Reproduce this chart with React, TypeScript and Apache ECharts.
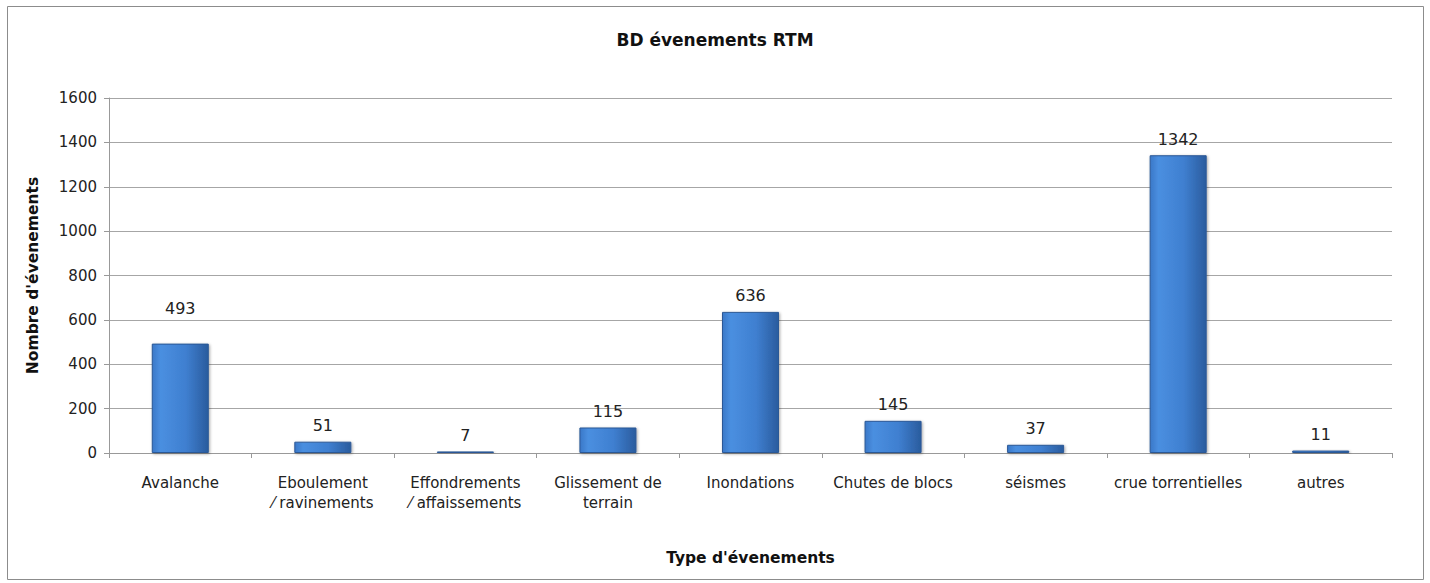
import React, { useEffect, useRef } from "react";
import * as echarts from "echarts";

const categories = [
  "Avalanche",
  "Eboulement\n⁄ ravinements",
  "Effondrements\n⁄ affaissements",
  "Glissement de\nterrain",
  "Inondations",
  "Chutes de blocs",
  "séismes",
  "crue torrentielles",
  "autres",
];
const values = [493, 51, 7, 115, 636, 145, 37, 1342, 11];
const title = "BD évenements RTM";
const yName = "Nombre d'évenements";
const xName = "Type d'évenements";

export default function App() {
  const ref = useRef<HTMLDivElement>(null);
  useEffect(() => {
    if (!ref.current) return;
    const chart = echarts.init(ref.current, null, { renderer: "svg" });
    const font = "DejaVu Sans";
    const barColor = {
      type: "linear",
      x: 0,
      y: 0,
      x2: 1,
      y2: 0,
      colorStops: [
        { offset: 0, color: "#3a78c8" },
        { offset: 0.15, color: "#4a8fe0" },
        { offset: 0.6, color: "#3f7fd0" },
        { offset: 1, color: "#2a5c9e" },
      ],
    };
    chart.setOption({
      animation: false,
      backgroundColor: "#ffffff",
      title: {
        text: title,
        left: "center",
        top: 26,
        textStyle: { fontFamily: font, fontSize: 17, fontWeight: "bold", color: "#111" },
      },
      graphic: [
        {
          type: "rect",
          shape: { x: 7.5, y: 6.5, width: 1416, height: 573 },
          style: { fill: "none", stroke: "#8c8c8c", lineWidth: 1 },
          silent: true,
        },
      ],
      grid: { left: 109, right: 38, top: 98, bottom: 130 },
      xAxis: {
        type: "category",
        data: categories,
        name: xName,
        nameLocation: "middle",
        nameGap: 97,
        nameTextStyle: { fontFamily: font, fontSize: 15.5, fontWeight: "bold", color: "#111" },
        axisLine: { show: true, lineStyle: { color: "#999", width: 1 } },
        axisTick: { show: true, length: 5, lineStyle: { color: "#999" } },
        axisLabel: {
          fontFamily: font,
          fontSize: 15,
          color: "#222",
          margin: 20,
          lineHeight: 20,
          interval: 0,
        },
      },
      yAxis: {
        type: "value",
        min: 0,
        max: 1600,
        interval: 200,
        name: yName,
        nameLocation: "middle",
        nameGap: 68,
        nameTextStyle: { fontFamily: font, fontSize: 15.5, fontWeight: "bold", color: "#111" },
        axisLine: { show: true, lineStyle: { color: "#999", width: 1 } },
        axisTick: { show: true, length: 5, lineStyle: { color: "#999" } },
        axisLabel: {
          fontFamily: font,
          fontSize: 15,
          color: "#222",
          margin: 12,
          formatter: (v: number) => String(v),
        },
        splitLine: { show: true, lineStyle: { color: "#a6a6a6", width: 1 } },
      },
      series: [
        {
          type: "bar",
          data: values.map((v, i) =>
            i === 0 ? { value: v, label: { distance: 27 } } : v
          ),
          barWidth: "40%",
          itemStyle: {
            color: barColor,
            borderColor: "#2b5896",
            borderWidth: 1,
            shadowColor: "rgba(0,0,0,0.35)",
            shadowBlur: 3,
            shadowOffsetX: 1,
            shadowOffsetY: 1,
          },
          label: {
            show: true,
            position: "top",
            distance: 8,
            fontFamily: font,
            fontSize: 16,
            color: "#222",
          },
        },
      ],
    });
    return () => chart.dispose();
  }, []);
  return (
    <div
      ref={ref}
      style={{ position: "absolute", left: 0, top: 0, width: 1430, height: 583 }}
    />
  );
}
